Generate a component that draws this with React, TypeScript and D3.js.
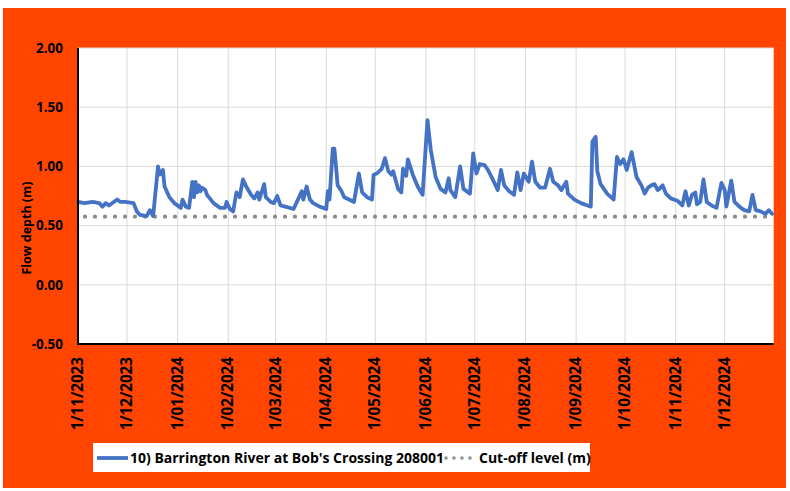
import React from "react";
import * as d3 from "d3";

const dates: string[] = [
  "2023-11-01","2023-11-05","2023-11-10","2023-11-14","2023-11-16","2023-11-18","2023-11-20","2023-11-25","2023-11-27","2023-11-30",
  "2023-12-05","2023-12-07","2023-12-09","2023-12-13","2023-12-15","2023-12-17","2023-12-20","2023-12-21","2023-12-23","2023-12-24",
  "2023-12-27","2023-12-30","2024-01-03","2024-01-04","2024-01-06","2024-01-08","2024-01-10","2024-01-11","2024-01-12","2024-01-13",
  "2024-01-14","2024-01-15","2024-01-16","2024-01-18","2024-01-19","2024-01-23","2024-01-27","2024-01-30","2024-01-31","2024-02-02",
  "2024-02-04","2024-02-06","2024-02-08","2024-02-10","2024-02-12","2024-02-15","2024-02-17","2024-02-19","2024-02-20","2024-02-23",
  "2024-02-24","2024-02-27","2024-02-29","2024-03-02","2024-03-04","2024-03-07","2024-03-12","2024-03-14","2024-03-17","2024-03-18",
  "2024-03-20","2024-03-22","2024-03-24","2024-03-28","2024-04-01","2024-04-02","2024-04-03","2024-04-05","2024-04-06","2024-04-08",
  "2024-04-10","2024-04-12","2024-04-15","2024-04-18","2024-04-21","2024-04-23","2024-04-26","2024-04-29","2024-04-30","2024-05-02",
  "2024-05-05","2024-05-07","2024-05-09","2024-05-11","2024-05-12","2024-05-15","2024-05-17","2024-05-18","2024-05-20","2024-05-21",
  "2024-05-24","2024-05-27","2024-05-30","2024-06-02","2024-06-04","2024-06-07","2024-06-10","2024-06-13","2024-06-15","2024-06-16",
  "2024-06-19","2024-06-22","2024-06-24","2024-06-28","2024-06-30","2024-07-02","2024-07-04","2024-07-07","2024-07-09","2024-07-12",
  "2024-07-15","2024-07-17","2024-07-19","2024-07-22","2024-07-25","2024-07-27","2024-07-29","2024-07-31","2024-08-03","2024-08-05",
  "2024-08-07","2024-08-10","2024-08-13","2024-08-16","2024-08-18","2024-08-21","2024-08-23","2024-08-26","2024-08-27","2024-08-31",
  "2024-09-04","2024-09-08","2024-09-10","2024-09-11","2024-09-13","2024-09-14","2024-09-16","2024-09-20","2024-09-24","2024-09-26",
  "2024-09-28","2024-09-30","2024-10-02","2024-10-05","2024-10-06","2024-10-08","2024-10-11","2024-10-13","2024-10-15","2024-10-17",
  "2024-10-19","2024-10-21","2024-10-22","2024-10-24","2024-10-26","2024-10-29","2024-11-02","2024-11-05","2024-11-07","2024-11-09",
  "2024-11-11","2024-11-13","2024-11-14","2024-11-16","2024-11-18","2024-11-20","2024-11-23","2024-11-26","2024-11-29","2024-12-01",
  "2024-12-02","2024-12-05","2024-12-07","2024-12-10","2024-12-13","2024-12-16","2024-12-18","2024-12-20","2024-12-23","2024-12-26",
  "2024-12-28","2024-12-30"
];

const depths: number[] = [
  0.70,0.69,0.70,0.69,0.66,0.69,0.67,0.72,0.70,0.70,
  0.69,0.62,0.59,0.58,0.63,0.58,1.00,0.93,0.97,0.83,
  0.74,0.69,0.65,0.72,0.66,0.65,0.87,0.74,0.87,0.78,
  0.84,0.79,0.82,0.80,0.76,0.69,0.65,0.65,0.70,0.64,
  0.62,0.78,0.74,0.89,0.83,0.76,0.73,0.78,0.72,0.85,
  0.74,0.70,0.69,0.75,0.67,0.66,0.64,0.70,0.79,0.72,
  0.83,0.72,0.69,0.66,0.64,0.79,0.72,1.15,1.15,0.84,
  0.80,0.74,0.72,0.70,0.94,0.78,0.74,0.72,0.93,0.94,
  0.98,1.07,0.96,0.93,0.96,0.81,0.78,0.98,0.92,1.06,
  0.93,0.83,0.76,1.39,1.14,0.91,0.81,0.78,0.90,0.80,
  0.74,1.00,0.81,0.77,1.11,0.94,1.02,1.01,0.97,0.89,
  0.80,0.97,0.84,0.79,0.76,0.95,0.80,0.94,0.87,1.04,
  0.87,0.82,0.82,0.98,0.87,0.84,0.80,0.87,0.77,0.72,
  0.69,0.67,0.66,1.21,1.25,0.96,0.85,0.77,0.72,1.08,
  1.02,1.06,0.97,1.12,1.05,0.91,0.84,0.77,0.82,0.84,
  0.85,0.80,0.81,0.84,0.77,0.73,0.71,0.67,0.79,0.67,
  0.76,0.78,0.68,0.70,0.89,0.70,0.67,0.65,0.86,0.80,
  0.66,0.88,0.70,0.66,0.63,0.62,0.76,0.63,0.62,0.60,
  0.63,0.60
];

const cutoffLevel = 0.575;
const yTicks: number[] = [-0.5, 0, 0.5, 1.0, 1.5, 2.0];
const xDomain: string[] = ["2023-11-01", "2024-12-31"];
const seriesName = "10) Barrington River at Bob's Crossing 208001";
const cutoffName = "Cut-off level (m)";
const yTitle = "Flow depth (m)";

const W = 790;
const H = 491;
const FONT = "'Open Sans', 'Noto Sans', sans-serif";
const ORANGE = "#FF4500";
const BLUE = "#4472C4";

export default function App() {
  const parse = d3.timeParse("%Y-%m-%d");
  const fmt = d3.timeFormat("%-d/%m/%Y");
  const left = 78, right = 773.7, top = 48, bottom = 344;

  const x = d3.scaleTime().domain(xDomain.map((s) => parse(s) as Date)).range([left, right]);
  const y = d3.scaleLinear().domain([-0.5, 2]).range([bottom, top]);

  const data = dates.map((d, i) => ({ date: parse(d) as Date, v: depths[i] }));
  const line = d3
    .line<{ date: Date; v: number }>()
    .x((d) => x(d.date))
    .y((d) => y(d.v));

  const monthTicks = d3.timeMonth.range(parse("2023-11-01") as Date, parse("2024-12-02") as Date);

  const cy = y(cutoffLevel);

  return (
    <svg width={W} height={H} style={{ position: "absolute", left: 0, top: 0 }} fontFamily={FONT}>
      <rect x={0} y={0} width={W} height={H} fill="#ffffff" />
      <rect x={3} y={8} width={783} height={480} fill={ORANGE} />
      <rect x={left} y={top} width={right - left} height={bottom - top} fill="#ffffff" />

      {yTicks.map((t) => (
        <line key={"gy" + t} x1={left} x2={right} y1={y(t)} y2={y(t)} stroke="#d9d9d9" strokeWidth={1} />
      ))}
      {monthTicks.map((t, i) => (
        <line key={"gx" + i} x1={x(t)} x2={x(t)} y1={top} y2={bottom} stroke="#d9d9d9" strokeWidth={1} />
      ))}

      <line x1={left} x2={right} y1={cy} y2={cy} stroke="#8c8c8c" strokeWidth={4.2}
        strokeLinecap="round" strokeDasharray="0 10" strokeDashoffset={3} />

      <path d={line(data) || ""} fill="none" stroke={BLUE} strokeWidth={3.8} strokeLinejoin="round" strokeLinecap="round" />

      <line x1={left} x2={left} y1={top} y2={bottom + 1} stroke="#000" strokeWidth={2} />
      <line x1={left - 1} x2={right} y1={bottom} y2={bottom} stroke="#000" strokeWidth={2} />

      {yTicks.map((t) => (
        <text key={"ty" + t} x={63} y={y(t)} dy="0.35em" textAnchor="end" fontSize={13.5} fontWeight={700} fill="#000">
          {t.toFixed(2)}
        </text>
      ))}
      {monthTicks.map((t, i) => (
        <text key={"tx" + i} transform={`translate(${x(t) + 5},${357}) rotate(-90)`} textAnchor="end"
          fontSize={15.2} fontWeight={700} fill="#000">
          {fmt(t)}
        </text>
      ))}

      <text transform={`translate(${31},${228}) rotate(-90)`} textAnchor="middle" fontSize={12.5} fontWeight={700} fill="#000">
        {yTitle}
      </text>

      <rect x={93} y={443} width={497} height={29} fill="#ffffff" />
      <line x1={97} x2={128} y1={458} y2={458} stroke={BLUE} strokeWidth={3.8} />
      <text x={130} y={458} dy="0.35em" fontSize={14} fontWeight={700} fill="#000">{seriesName}</text>
      <line x1={446} x2={477} y1={458} y2={458} stroke="#8c8c8c" strokeWidth={3.5} strokeLinecap="round" strokeDasharray="0 8" />
      <text x={479} y={458} dy="0.35em" fontSize={14} fontWeight={700} fill="#000">{cutoffName}</text>
    </svg>
  );
}
